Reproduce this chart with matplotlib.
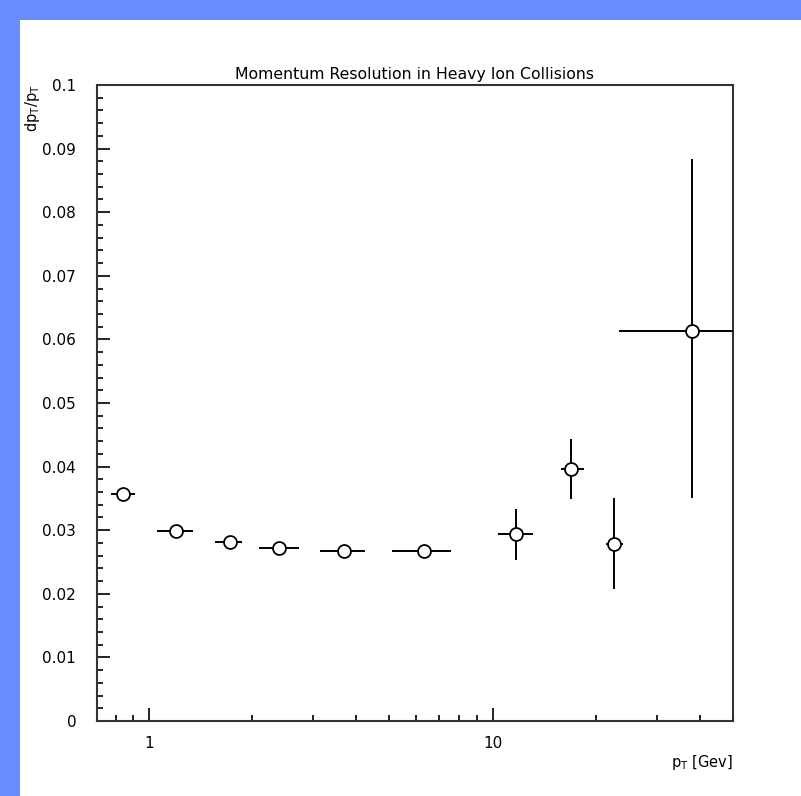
import matplotlib
matplotlib.use("Agg")
import matplotlib.pyplot as plt
from matplotlib.patches import Rectangle
from matplotlib.ticker import FixedLocator, FixedFormatter, NullFormatter
import numpy as np

# momentum bins (GeV): centre, lower and upper bin edges
pt = [0.84, 1.20, 1.72, 2.39, 3.70, 6.31, 11.66, 16.9, 22.6, 38.1]
pt_lo = [0.776, 1.053, 1.56, 2.09, 3.14, 5.11, 10.36, 15.8, 21.4, 23.3]
pt_hi = [0.911, 1.345, 1.87, 2.73, 4.25, 7.55, 13.1, 18.4, 24.0, 60.0]

# resolution dpT/pT and its error range
res = [0.0357, 0.0298, 0.0282, 0.0272, 0.0267, 0.0267, 0.0294, 0.0396, 0.0278, 0.0613]
res_lo = [0.0355, 0.0296, 0.0280, 0.0270, 0.0265, 0.0265, 0.0253, 0.0349, 0.0207, 0.0351]
res_hi = [0.0359, 0.0300, 0.0284, 0.0274, 0.0269, 0.0269, 0.0334, 0.0443, 0.0350, 0.0884]

y_ticks = [0, 0.01, 0.02, 0.03, 0.04, 0.05, 0.06, 0.07, 0.08, 0.09, 0.1]
y_labels = ["0", "0.01", "0.02", "0.03", "0.04", "0.05", "0.06", "0.07", "0.08", "0.09", "0.1"]
x_ticks = [1, 10]
x_labels = ["1", "10"]
x_minor = [0.8, 0.9, 2, 3, 4, 5, 6, 7, 8, 9, 20, 30, 40]

W, H = 801, 796
blue = "#6a8cff"
fig = plt.figure(figsize=(W / 100, H / 100), dpi=100, facecolor="white")
# blue frame strips on the left and top
fig.patches.append(Rectangle((0, 0), 20 / W, 1, transform=fig.transFigure,
                             facecolor=blue, edgecolor="none", zorder=-5))
fig.patches.append(Rectangle((0, 1 - 20 / H), 1, 20 / H, transform=fig.transFigure,
                             facecolor=blue, edgecolor="none", zorder=-5))

ax = fig.add_axes([97 / W, 75 / H, 636 / W, 636 / H])
ax.set_xscale("log")

pt_a = np.array(pt)
res_a = np.array(res)
xerr = [pt_a - np.array(pt_lo), np.array(pt_hi) - pt_a]
yerr = [res_a - np.array(res_lo), np.array(res_hi) - res_a]
ax.errorbar(pt_a, res_a, xerr=xerr, yerr=yerr, fmt="o", color="black",
            mfc="white", mec="black", ms=9.3, mew=1.3, elinewidth=1.4,
            capsize=0, zorder=3)

ax.set_xlim(0.706, 50)
ax.set_ylim(0, 0.1)

ax.xaxis.set_major_locator(FixedLocator(x_ticks))
ax.xaxis.set_major_formatter(FixedFormatter(x_labels))
ax.xaxis.set_minor_locator(FixedLocator(x_minor))
ax.xaxis.set_minor_formatter(NullFormatter())
ax.yaxis.set_major_locator(FixedLocator(y_ticks))
ax.yaxis.set_major_formatter(FixedFormatter(y_labels))
ax.yaxis.set_minor_locator(FixedLocator(np.arange(0, 0.1, 0.002)))

ax.tick_params(which="both", direction="in", top=False, right=False,
               width=1.4, labelsize=11, color="#222222")
ax.tick_params(which="major", length=9.5)
ax.tick_params(which="minor", length=4)
ax.tick_params(axis="y", pad=15)
ax.tick_params(axis="x", pad=11)
for s in ax.spines.values():
    s.set_linewidth(1.5)
    s.set_color("#333333")

fig.text(414 / W, 1 - 75 / H, "Momentum Resolution in Heavy Ion Collisions",
         ha="center", va="center", fontsize=11.3)
fig.text(733 / W, 1 - 762 / H, r"p$_\mathrm{T}$ [Gev]", ha="right",
         va="center", fontsize=10.5)
fig.text(33 / W, 1 - 84 / H, r"dp$_\mathrm{T}$/p$_\mathrm{T}$", ha="center",
         va="top", rotation=90, fontsize=10.5)

fig.savefig("out.png", dpi=100)
